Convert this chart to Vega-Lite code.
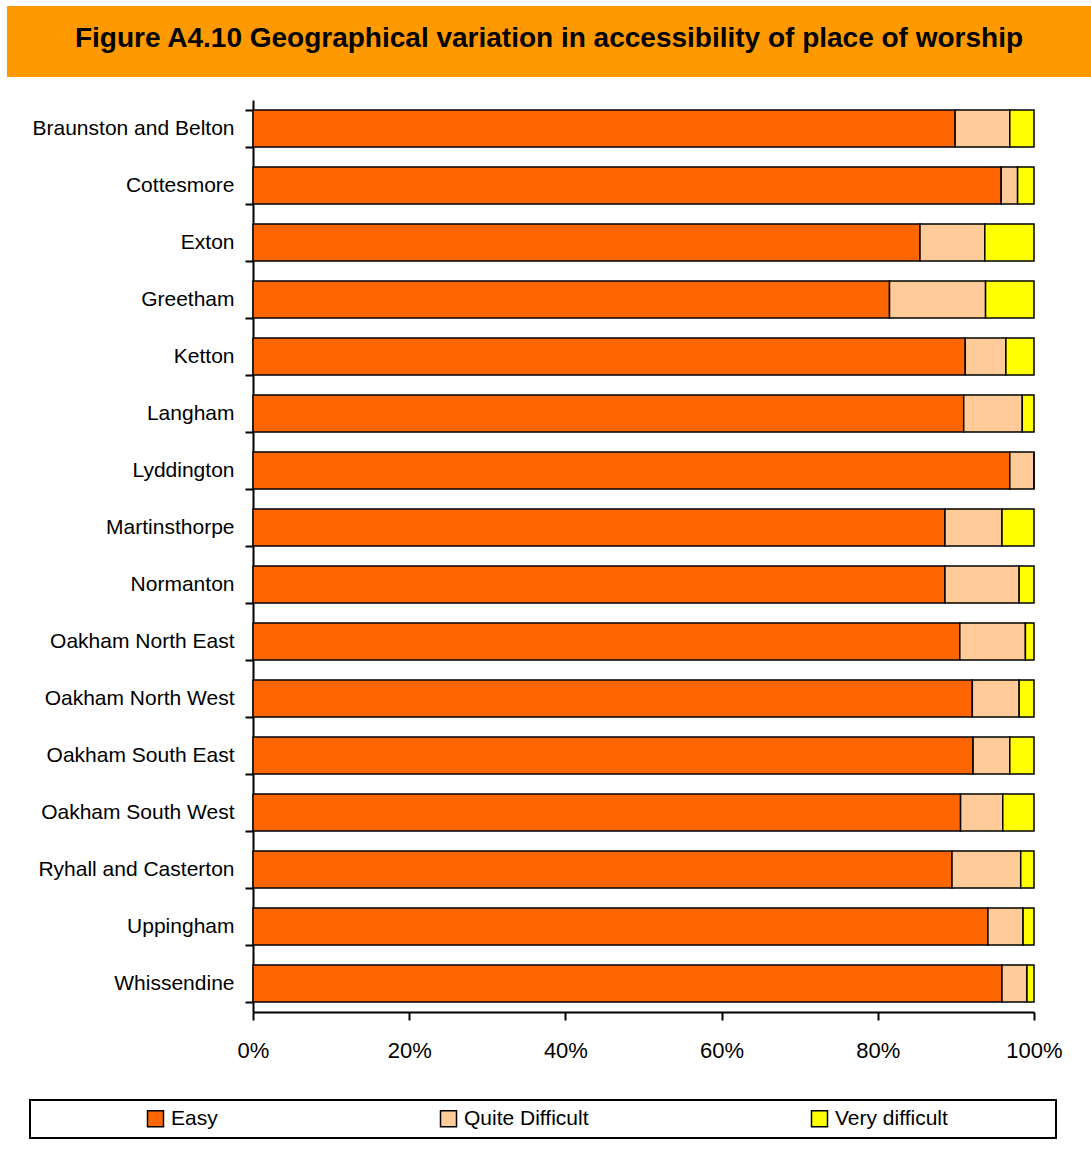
{
  "$schema": "https://vega.github.io/schema/vega-lite/v6.json",
  "padding": {"left": 7, "top": 6, "right": 0, "bottom": 0},
  "background": "white",
  "spacing": 12,
  "resolve": {"legend": {"color": "independent"}},
  "config": {"view": {"stroke": null}},
  "vconcat": [
    {
      "width": 1084,
      "height": 71,
      "view": {"fill": "#FF9900", "stroke": null},
      "data": {"values": [{"t": "Figure A4.10 Geographical variation in accessibility of place of worship"}]},
      "mark": {"type": "text", "font": "Liberation Sans", "fontWeight": "bold", "fontSize": 28, "color": "black", "align": "center", "baseline": "middle", "dy": -3},
      "encoding": {"text": {"field": "t"}}
    },
    {
      "width": 1027,
      "height": 912,
      "data": {"values": [
        {"area": "Braunston and Belton", "level": "Easy", "pct": 89.9},
        {"area": "Braunston and Belton", "level": "Quite Difficult", "pct": 7.0},
        {"area": "Braunston and Belton", "level": "Very difficult", "pct": 3.1},
        {"area": "Cottesmore", "level": "Easy", "pct": 95.8},
        {"area": "Cottesmore", "level": "Quite Difficult", "pct": 2.1},
        {"area": "Cottesmore", "level": "Very difficult", "pct": 2.1},
        {"area": "Exton", "level": "Easy", "pct": 85.4},
        {"area": "Exton", "level": "Quite Difficult", "pct": 8.3},
        {"area": "Exton", "level": "Very difficult", "pct": 6.3},
        {"area": "Greetham", "level": "Easy", "pct": 81.5},
        {"area": "Greetham", "level": "Quite Difficult", "pct": 12.3},
        {"area": "Greetham", "level": "Very difficult", "pct": 6.2},
        {"area": "Ketton", "level": "Easy", "pct": 91.2},
        {"area": "Ketton", "level": "Quite Difficult", "pct": 5.2},
        {"area": "Ketton", "level": "Very difficult", "pct": 3.6},
        {"area": "Langham", "level": "Easy", "pct": 91.0},
        {"area": "Langham", "level": "Quite Difficult", "pct": 7.5},
        {"area": "Langham", "level": "Very difficult", "pct": 1.5},
        {"area": "Lyddington", "level": "Easy", "pct": 96.9},
        {"area": "Lyddington", "level": "Quite Difficult", "pct": 3.1},
        {"area": "Lyddington", "level": "Very difficult", "pct": 0},
        {"area": "Martinsthorpe", "level": "Easy", "pct": 88.6},
        {"area": "Martinsthorpe", "level": "Quite Difficult", "pct": 7.3},
        {"area": "Martinsthorpe", "level": "Very difficult", "pct": 4.1},
        {"area": "Normanton", "level": "Easy", "pct": 88.6},
        {"area": "Normanton", "level": "Quite Difficult", "pct": 9.5},
        {"area": "Normanton", "level": "Very difficult", "pct": 1.9},
        {"area": "Oakham North East", "level": "Easy", "pct": 90.5},
        {"area": "Oakham North East", "level": "Quite Difficult", "pct": 8.4},
        {"area": "Oakham North East", "level": "Very difficult", "pct": 1.1},
        {"area": "Oakham North West", "level": "Easy", "pct": 92.1},
        {"area": "Oakham North West", "level": "Quite Difficult", "pct": 6.0},
        {"area": "Oakham North West", "level": "Very difficult", "pct": 1.9},
        {"area": "Oakham South East", "level": "Easy", "pct": 92.2},
        {"area": "Oakham South East", "level": "Quite Difficult", "pct": 4.7},
        {"area": "Oakham South East", "level": "Very difficult", "pct": 3.1},
        {"area": "Oakham South West", "level": "Easy", "pct": 90.6},
        {"area": "Oakham South West", "level": "Quite Difficult", "pct": 5.4},
        {"area": "Oakham South West", "level": "Very difficult", "pct": 4.0},
        {"area": "Ryhall and Casterton", "level": "Easy", "pct": 89.5},
        {"area": "Ryhall and Casterton", "level": "Quite Difficult", "pct": 8.8},
        {"area": "Ryhall and Casterton", "level": "Very difficult", "pct": 1.7},
        {"area": "Uppingham", "level": "Easy", "pct": 94.1},
        {"area": "Uppingham", "level": "Quite Difficult", "pct": 4.5},
        {"area": "Uppingham", "level": "Very difficult", "pct": 1.4},
        {"area": "Whissendine", "level": "Easy", "pct": 95.9},
        {"area": "Whissendine", "level": "Quite Difficult", "pct": 3.2},
        {"area": "Whissendine", "level": "Very difficult", "pct": 0.9}
      ]},
      "mark": {"type": "bar", "stroke": "black", "strokeWidth": 1.5},
      "encoding": {
        "y": {
          "field": "area", "type": "nominal", "sort": null,
          "scale": {"paddingInner": 0.35, "paddingOuter": 0.175},
          "axis": {
            "title": null, "offset": -246, "domainColor": "black", "domainWidth": 2,
            "tickColor": "black", "tickWidth": 2, "tickSize": 8, "tickBand": "extent",
            "labelFont": "Liberation Sans", "labelFontSize": 21, "labelColor": "black",
            "labelPadding": 11, "labelLimit": 400
          }
        },
        "x": {
          "field": "pct", "type": "quantitative", "stack": "normalize",
          "scale": {"domain": [0, 1], "range": [246, 1027]},
          "axis": {
            "title": null, "format": ".0%", "values": [0, 0.2, 0.4, 0.6, 0.8, 1],
            "grid": false, "domainColor": "black", "domainWidth": 2,
            "tickColor": "black", "tickWidth": 2, "tickSize": 8,
            "labelFont": "Liberation Sans", "labelFontSize": 22, "labelColor": "black",
            "labelPadding": 20, "labelFlush": false
          }
        },
        "color": {
          "field": "level", "type": "nominal",
          "scale": {"domain": ["Easy", "Quite Difficult", "Very difficult"], "range": ["#FF6600", "#FFCC99", "#FFFF00"]},
          "legend": {
            "title": " ", "titleOrient": "right", "titlePadding": 100, "titleFontSize": 10,
            "orient": "none", "direction": "horizontal",
            "legendX": 23, "legendY": 1000,
            "fillColor": "white", "strokeColor": "black", "padding": 8,
            "symbolType": "square", "symbolSize": 256, "symbolStrokeColor": "black", "symbolStrokeWidth": 1.5,
            "symbolOffset": 107,
            "labelFont": "Liberation Sans", "labelFontSize": 21, "labelColor": "black",
            "labelOffset": 5, "columnPadding": 113, "labelLimit": 400,
            "encode": {"legend": {"update": {"strokeWidth": {"value": 2}}}}
          }
        }
      }
    }
  ]
}
